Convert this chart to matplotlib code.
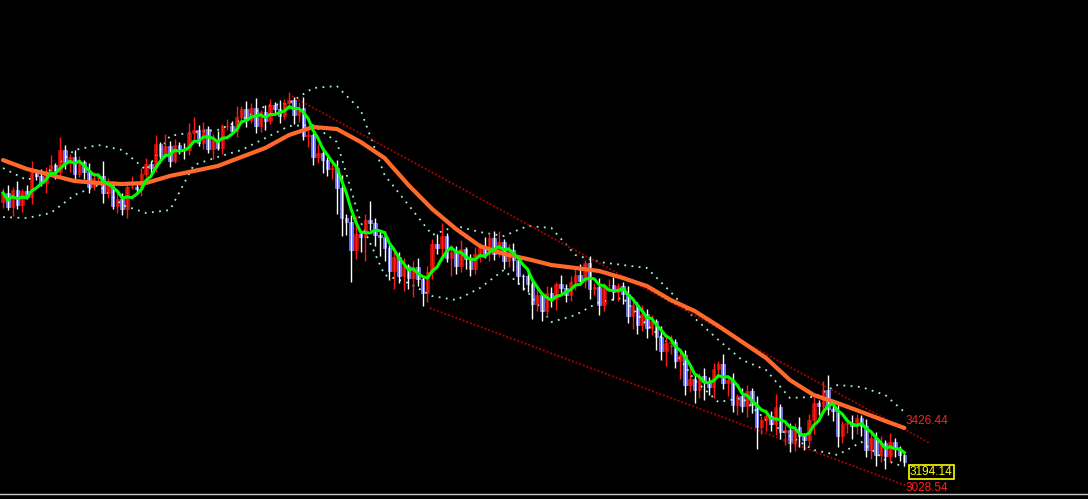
import numpy as np
import pandas as pd
import matplotlib
matplotlib.use("Agg")
import matplotlib.pyplot as plt
from matplotlib.lines import Line2D

# daily closes (index points)
closes = [5040, 4941, 5060, 4956, 5053, 5014, 5181, 5158, 5105, 5187,
          5232, 5181, 5334, 5244, 5286, 5165, 5250, 5185, 5077, 5138,
          5157, 5037, 5108, 4949, 4998, 4925, 5078, 5082, 5063, 5166,
          5239, 5209, 5376, 5292, 5362, 5261, 5366, 5343, 5331, 5447,
          5472, 5380, 5478, 5340, 5403, 5350, 5497, 5501, 5461, 5557,
          5616, 5538, 5623, 5498, 5595, 5529, 5641, 5617, 5564, 5653,
          5678, 5572, 5623, 5429, 5437, 5282, 5311, 5267, 5201, 5207,
          5074, 4866, 4840, 4647, 4758, 4733, 4852, 4829, 4748, 4734,
          4663, 4502, 4600, 4469, 4539, 4452, 4529, 4451, 4350, 4494,
          4690, 4660, 4744, 4592, 4635, 4534, 4653, 4588, 4515, 4617,
          4676, 4619, 4731, 4619, 4703, 4575, 4646, 4581, 4467, 4466,
          4416, 4276, 4340, 4228, 4353, 4308, 4413, 4383, 4336, 4425,
          4477, 4434, 4559, 4379, 4394, 4273, 4406, 4410, 4357, 4398,
          4347, 4194, 4271, 4132, 4209, 4115, 4159, 4053, 3952, 4007,
          4018, 3885, 3928, 3721, 3763, 3690, 3781, 3745, 3705, 3828,
          3867, 3734, 3757, 3584, 3647, 3580, 3679, 3587, 3431, 3478,
          3510, 3453, 3571, 3398, 3413, 3320, 3432, 3374, 3342, 3478,
          3599, 3576, 3688, 3556, 3544, 3368, 3452, 3463, 3438, 3492,
          3442, 3274, 3359, 3241, 3324, 3237, 3329, 3285, 3240, 3194.14]

upper_wick = [30, 50, 20, 60, 15, 40, 75, 20, 45, 30,
              70, 15, 90, 30, 20, 50, 40, 15, 60, 45,
              20, 100, 30, 15, 50, 40, 20, 70, 30, 45,
              40, 20, 60, 15, 80, 30, 45, 20, 40, 70,
              90, 30, 50, 20, 40, 60, 15, 45, 30, 75,
              20, 50, 30, 70, 15, 45, 40, 20, 60, 30,
              50, 20, 40, 75, 30, 15, 60, 45, 20, 40,
              60, 90, 30, 50, 120, 20, 45, 130, 40, 30,
              45, 20, 70, 30, 50, 15, 40, 60, 20, 45,
              30, 70, 90, 20, 45, 40, 60, 15, 30, 50,
              20, 60, 30, 45, 75, 20, 40, 50, 30, 15,
              45, 30, 70, 20, 50, 40, 15, 60, 30, 45,
              40, 75, 20, 45, 30, 60, 15, 40, 50, 20,
              30, 50, 40, 20, 60, 30, 45, 15, 70, 40,
              45, 20, 50, 30, 90, 40, 20, 60, 30, 45,
              20, 70, 30, 45, 15, 50, 40, 20, 60, 30,
              45, 30, 90, 20, 40, 50, 30, 70, 20, 45,
              40, 20, 60, 100, 30, 45, 20, 40, 50, 30,
              20, 45, 30, 40, 50, 20, 60, 30, 15, 20]

lower_wick = [40, 20, 60, 30, 45, 15, 50, 30, 20, 70,
              30, 45, 20, 40, 60, 30, 15, 50, 40, 20,
              45, 70, 30, 20, 50, 40, 60, 15, 30, 45,
              20, 40, 30, 50, 15, 45, 20, 40, 60, 30,
              45, 20, 40, 30, 70, 20, 45, 30, 15, 40,
              30, 50, 20, 45, 40, 60, 20, 30, 45, 15,
              40, 60, 45, 30, 75, 50, 40, 90, 45, 70,
              180, 120, 90, 220, 60, 100, 160, 45, 75, 130,
              90, 60, 120, 45, 100, 70, 130, 50, 90, 60,
              45, 40, 75, 30, 120, 50, 40, 70, 45, 30,
              50, 30, 45, 40, 20, 60, 45, 75, 50, 90,
              60, 100, 45, 70, 40, 50, 75, 30, 45, 40,
              50, 30, 45, 70, 40, 75, 45, 30, 50, 60,
              70, 45, 90, 60, 40, 75, 50, 90, 60, 100,
              75, 50, 120, 70, 45, 90, 60, 130, 50, 75,
              60, 40, 90, 50, 70, 45, 80, 60, 150, 45,
              70, 50, 75, 45, 90, 60, 50, 75, 70, 45,
              90, 60, 50, 40, 70, 75, 45, 60, 90, 50,
              70, 45, 60, 75, 50, 90, 45, 60, 40, 30]

first_open = 4975

# long moving average and bollinger bands, every 5th session + last
ma_long = [5264, 5203, 5162, 5120, 5107, 5100, 5107, 5155, 5189, 5223,
           5285, 5347, 5436, 5491, 5477, 5388, 5278, 5093, 4928, 4791,
           4674, 4620, 4585, 4544, 4524, 4503, 4455, 4400, 4304, 4229,
           4126, 4016, 3906, 3755, 3652, 3597, 3536, 3474, 3426.44]
boll_up = [5209, 5127, 5196, 5333, 5367, 5333, 5196, 5429, 5457, 5470,
           5539, 5635, 5655, 5758, 5772, 5607, 5162, 4956, 4750, 4812,
           4770, 4743, 4812, 4798, 4613, 4565, 4544, 4524, 4359, 4180,
           4030, 3892, 3824, 3632, 3639, 3721, 3707, 3652, 3536]
boll_dn = [4873, 4866, 4901, 5024, 5093, 4956, 4901, 4921, 5230, 5285,
           5333, 5415, 5498, 5504, 5388, 4839, 4476, 4421, 4331, 4304,
           4386, 4510, 4359, 4153, 4201, 4290, 4318, 4133, 3995, 3755,
           3604, 3632, 3481, 3371, 3275, 3241, 3330, 3206, 3158]

# trend channel (start / end session, value)
chan_up = [(60.5, 5703), (194.3, 3323)]
chan_dn = [(89.5, 4249), (191.0, 3010)]

last_close = "3194.14"
label_up = "3426.44"
label_dn = "3028.54"

closes = np.array(closes, dtype=float)
n = len(closes)
idx = np.arange(n)
opens = np.r_[first_open, closes[:-1]]
highs = np.maximum(opens, closes) + np.array(upper_wick)
lows = np.minimum(opens, closes) - np.array(lower_wick)
ma_short = pd.Series(closes).rolling(5, min_periods=1).mean().values
sidx = np.r_[np.arange(0, n, 5), n - 1]

fig = plt.figure(figsize=(10.88, 4.99), dpi=100, facecolor="black")
ax = fig.add_axes([0, 0, 1, 1])
ax.set_facecolor("black")
ax.set_axis_off()
ax.set_xlim(-0.63, 227.5)
ax.set_ylim(2939, 6362)

# bollinger bands
ax.plot(sidx, boll_up, color="#9ff5dc", lw=1.3, ls=(0, (1, 3)))
ax.plot(sidx, boll_dn, color="#9ff5dc", lw=1.3, ls=(0, (1, 3)))

# channel
for ch in (chan_up, chan_dn):
    ax.plot([ch[0][0], ch[1][0]], [ch[0][1], ch[1][1]], color="#a00000",
            lw=1.4, ls=(0, (1, 1)))

# candles
up = closes >= opens
for i in idx:
    if up[i]:
        ax.vlines(i, lows[i], highs[i], color="#ff1a1a", lw=1)
        ax.bar(i, closes[i] - opens[i], bottom=opens[i], width=0.75,
               color="#c41200", edgecolor="#c41200", lw=0.5)
    else:
        ax.vlines(i, lows[i], highs[i], color="white", lw=1)
        ax.bar(i, opens[i] - closes[i], bottom=closes[i], width=0.75,
               color="#5a5aff", edgecolor="#8c8cff", lw=0.5)

ax.plot(sidx, ma_long, color="#ff6a2a", lw=3, solid_capstyle="round",
        solid_joinstyle="round")
ax.plot(idx, ma_short, color="#00ff00", lw=2.2)

font = "Liberation Sans"
ax.annotate(label_up, (n - 1, ma_long[-1]), xytext=(0.5, 5), textcoords="offset points",
            color="#ff2020", fontsize=8.5, family=font, va="center")
ax.annotate(label_dn, (n - 1, 3028.54), xytext=(0.5, -1.5), textcoords="offset points",
            color="#ff2020", fontsize=8.5, family=font, va="center")
ax.annotate(last_close, (n - 1, closes[-1]), xytext=(4, -7.5), textcoords="offset points",
            color="#ffff00", fontsize=8.5, family=font, va="center",
            bbox=dict(boxstyle="square,pad=0.1", fc="black", ec="#ffff00", lw=1.2))

fig.add_artist(Line2D([0, 1], [0.01, 0.01], color="#c8c8c8", lw=1))

fig.savefig("out.png", dpi=100, facecolor="black")
